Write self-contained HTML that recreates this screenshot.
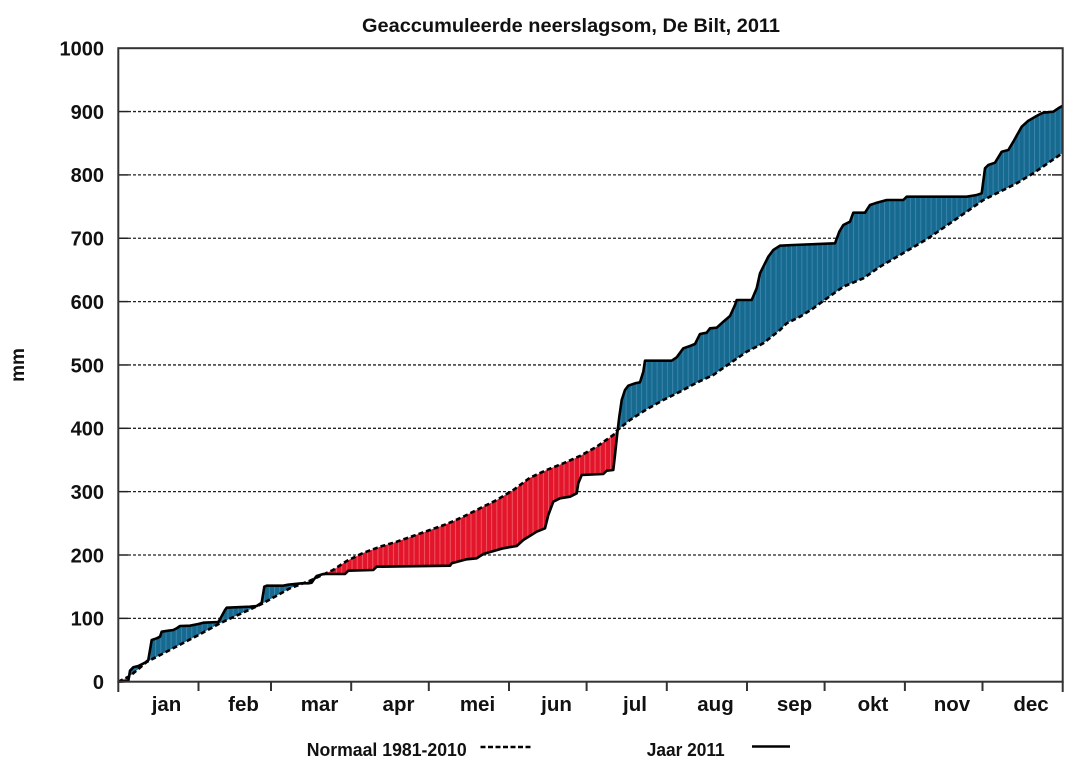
<!DOCTYPE html>
<html>
<head>
<meta charset="utf-8">
<style>
html,body{margin:0;padding:0;background:#fff;}
svg{display:block;}
text{font-family:"Liberation Sans",Arial,sans-serif;fill:#111;}
</style>
</head>
<body>
<svg width="1081" height="760" viewBox="0 0 1081 760" xmlns="http://www.w3.org/2000/svg">
<defs>
  <pattern id="pb" patternUnits="userSpaceOnUse" width="5.17" height="10">
    <rect width="5.17" height="10" fill="#16698f"/>
    <rect x="0" width="1" height="10" fill="#4a90b8" opacity="0.7"/>
  </pattern>
  <pattern id="pr" patternUnits="userSpaceOnUse" width="5.17" height="10">
    <rect width="5.17" height="10" fill="#e3152a"/>
    <rect x="0" width="1" height="10" fill="#f2707c" opacity="0.7"/>
  </pattern>
  <clipPath id="aboveN">
    <polygon points="118.3,681.7 130,676 146.7,662 165,652.5 198.5,635 220,623.3 261.7,604 290,588.3 310,580.7 323.3,574.5 333,570 346.7,561 363,553 380,546.7 396.7,541.7 413,536 430,530 446.7,524 463.3,516.7 480,508.3 496.7,500 513.3,490 530,477.7 546.7,470 563.3,463.3 580,456 596.7,446.7 613.3,435 616.7,430.7 630,420 646.7,409.3 663.3,400 680,391.7 696.7,382.7 713.3,375 730,363.3 746.7,351.7 763.3,343.3 780,330 786.7,323.3 796.7,318.3 800,316.7 813.3,308.3 820,303.3 843.3,286.7 863.3,278.3 880,266.7 900,255 926.7,239.3 950,223.3 966.7,211.7 983.3,200 1000,191.7 1016.7,183.3 1033.3,173.3 1050,161.7 1062.7,153 1062.7,40 118.3,40"/>
  </clipPath>
  <clipPath id="above11">
    <polygon points="118.3,681.7 128.3,681 130,670.7 133.3,667.3 138.3,666 145,662.7 148.3,660 151.7,640 156.7,638.3 160,636.7 161.7,631.7 168.3,630.7 173.3,630 176.7,628.3 180,626 190,625.7 198.3,624 203.3,622.7 218.3,622 220,619.3 225,610 226.7,607.7 250,606.7 256.7,606 261.7,602.7 264.3,586.7 266.7,585.7 283.3,585.7 288.3,584.7 301.7,583.3 308.3,583.3 311.7,582.7 314,579.3 316.7,576 323.3,574 345,574 348.3,570.7 373.3,570 376.7,566.7 450,565.7 451.7,563.3 466.7,559.3 476.7,558.3 483.3,554 503.3,548.3 516.7,546 523.3,540 536.7,531.7 545,528.3 548.3,515 553.3,501.7 560,498.3 570,496.7 576.7,493.3 578.3,483.3 581.7,475 603.3,474 606.7,470.7 613.3,470 615,455 617.3,433.3 619.3,416.7 621.7,400 625,390 628.3,385.7 635,383.3 640,382.3 643.3,371.7 645,360.7 671.7,360.7 676.7,357.3 683.3,348.3 690,346 695,344 700,334 706.7,332.7 710,328.3 716.7,327.7 723.3,321.7 730,316 735,305 736.7,300 751.7,300 756.7,288.3 760,273.3 763.3,266.7 768.3,256.7 773.3,250 780,245.7 793.3,245 835,243.3 839.3,231.7 843.3,225 850,221.7 853.3,212.7 865,212.7 870,205 875,203.3 886.7,200 903.3,200 906.7,196.7 966.7,196.7 976.7,195 981.7,193.3 985,168.3 988.3,165 995,162.7 1001.7,151.7 1008.3,150 1013.3,141.7 1021.7,126.7 1028.3,120.7 1038.3,115 1043.3,112.7 1053.3,111.7 1058.3,108.3 1062.7,105.7 1062.7,40 118.3,40"/>
  </clipPath>
</defs>

<!-- Title -->
<text x="571" y="32" text-anchor="middle" font-size="19" font-weight="bold" textLength="418" lengthAdjust="spacingAndGlyphs">Geaccumuleerde neerslagsom, De Bilt, 2011</text>

<!-- gridlines -->
<g stroke="#222" stroke-width="1.3" stroke-dasharray="3 2" fill="none">
  <line x1="128" y1="618.35" x2="1052" y2="618.35"/>
  <line x1="128" y1="555" x2="1052" y2="555"/>
  <line x1="128" y1="491.65" x2="1052" y2="491.65"/>
  <line x1="128" y1="428.3" x2="1052" y2="428.3"/>
  <line x1="128" y1="364.95" x2="1052" y2="364.95"/>
  <line x1="128" y1="301.6" x2="1052" y2="301.6"/>
  <line x1="128" y1="238.25" x2="1052" y2="238.25"/>
  <line x1="128" y1="174.9" x2="1052" y2="174.9"/>
  <line x1="128" y1="111.55" x2="1052" y2="111.55"/>
</g>
<g stroke="#222" stroke-width="1.5">
  <line x1="118" y1="618.35" x2="128" y2="618.35"/><line x1="1052" y1="618.35" x2="1063" y2="618.35"/>
  <line x1="118" y1="555" x2="128" y2="555"/><line x1="1052" y1="555" x2="1063" y2="555"/>
  <line x1="118" y1="491.65" x2="128" y2="491.65"/><line x1="1052" y1="491.65" x2="1063" y2="491.65"/>
  <line x1="118" y1="428.3" x2="128" y2="428.3"/><line x1="1052" y1="428.3" x2="1063" y2="428.3"/>
  <line x1="118" y1="364.95" x2="128" y2="364.95"/><line x1="1052" y1="364.95" x2="1063" y2="364.95"/>
  <line x1="118" y1="301.6" x2="128" y2="301.6"/><line x1="1052" y1="301.6" x2="1063" y2="301.6"/>
  <line x1="118" y1="238.25" x2="128" y2="238.25"/><line x1="1052" y1="238.25" x2="1063" y2="238.25"/>
  <line x1="118" y1="174.9" x2="128" y2="174.9"/><line x1="1052" y1="174.9" x2="1063" y2="174.9"/>
  <line x1="118" y1="111.55" x2="128" y2="111.55"/><line x1="1052" y1="111.55" x2="1063" y2="111.55"/>
</g>

<!-- blue fill: under 2011, above normal -->
<polygon clip-path="url(#aboveN)" fill="url(#pb)" points="118.3,681.7 128.3,681 130,670.7 133.3,667.3 138.3,666 145,662.7 148.3,660 151.7,640 156.7,638.3 160,636.7 161.7,631.7 168.3,630.7 173.3,630 176.7,628.3 180,626 190,625.7 198.3,624 203.3,622.7 218.3,622 220,619.3 225,610 226.7,607.7 250,606.7 256.7,606 261.7,602.7 264.3,586.7 266.7,585.7 283.3,585.7 288.3,584.7 301.7,583.3 308.3,583.3 311.7,582.7 314,579.3 316.7,576 323.3,574 345,574 348.3,570.7 373.3,570 376.7,566.7 450,565.7 451.7,563.3 466.7,559.3 476.7,558.3 483.3,554 503.3,548.3 516.7,546 523.3,540 536.7,531.7 545,528.3 548.3,515 553.3,501.7 560,498.3 570,496.7 576.7,493.3 578.3,483.3 581.7,475 603.3,474 606.7,470.7 613.3,470 615,455 617.3,433.3 619.3,416.7 621.7,400 625,390 628.3,385.7 635,383.3 640,382.3 643.3,371.7 645,360.7 671.7,360.7 676.7,357.3 683.3,348.3 690,346 695,344 700,334 706.7,332.7 710,328.3 716.7,327.7 723.3,321.7 730,316 735,305 736.7,300 751.7,300 756.7,288.3 760,273.3 763.3,266.7 768.3,256.7 773.3,250 780,245.7 793.3,245 835,243.3 839.3,231.7 843.3,225 850,221.7 853.3,212.7 865,212.7 870,205 875,203.3 886.7,200 903.3,200 906.7,196.7 966.7,196.7 976.7,195 981.7,193.3 985,168.3 988.3,165 995,162.7 1001.7,151.7 1008.3,150 1013.3,141.7 1021.7,126.7 1028.3,120.7 1038.3,115 1043.3,112.7 1053.3,111.7 1058.3,108.3 1062.7,105.7 1062.7,682 118.3,682"/>

<!-- red fill: under normal, above 2011 -->
<polygon clip-path="url(#above11)" fill="url(#pr)" points="118.3,681.7 130,676 146.7,662 165,652.5 198.5,635 220,623.3 261.7,604 290,588.3 310,580.7 323.3,574.5 333,570 346.7,561 363,553 380,546.7 396.7,541.7 413,536 430,530 446.7,524 463.3,516.7 480,508.3 496.7,500 513.3,490 530,477.7 546.7,470 563.3,463.3 580,456 596.7,446.7 613.3,435 616.7,430.7 630,420 646.7,409.3 663.3,400 680,391.7 696.7,382.7 713.3,375 730,363.3 746.7,351.7 763.3,343.3 780,330 786.7,323.3 796.7,318.3 800,316.7 813.3,308.3 820,303.3 843.3,286.7 863.3,278.3 880,266.7 900,255 926.7,239.3 950,223.3 966.7,211.7 983.3,200 1000,191.7 1016.7,183.3 1033.3,173.3 1050,161.7 1062.7,153 1062.7,682 118.3,682"/>

<!-- normal dashed line -->
<polyline fill="none" stroke="#000" stroke-width="2.6" stroke-dasharray="5 3" points="118.3,681.7 130,676 146.7,662 165,652.5 198.5,635 220,623.3 261.7,604 290,588.3 310,580.7 323.3,574.5 333,570 346.7,561 363,553 380,546.7 396.7,541.7 413,536 430,530 446.7,524 463.3,516.7 480,508.3 496.7,500 513.3,490 530,477.7 546.7,470 563.3,463.3 580,456 596.7,446.7 613.3,435 616.7,430.7 630,420 646.7,409.3 663.3,400 680,391.7 696.7,382.7 713.3,375 730,363.3 746.7,351.7 763.3,343.3 780,330 786.7,323.3 796.7,318.3 800,316.7 813.3,308.3 820,303.3 843.3,286.7 863.3,278.3 880,266.7 900,255 926.7,239.3 950,223.3 966.7,211.7 983.3,200 1000,191.7 1016.7,183.3 1033.3,173.3 1050,161.7 1062.7,153"/>

<!-- 2011 solid line -->
<polyline fill="none" stroke="#000" stroke-width="2.6" stroke-linejoin="round" points="118.3,681.7 128.3,681 130,670.7 133.3,667.3 138.3,666 145,662.7 148.3,660 151.7,640 156.7,638.3 160,636.7 161.7,631.7 168.3,630.7 173.3,630 176.7,628.3 180,626 190,625.7 198.3,624 203.3,622.7 218.3,622 220,619.3 225,610 226.7,607.7 250,606.7 256.7,606 261.7,602.7 264.3,586.7 266.7,585.7 283.3,585.7 288.3,584.7 301.7,583.3 308.3,583.3 311.7,582.7 314,579.3 316.7,576 323.3,574 345,574 348.3,570.7 373.3,570 376.7,566.7 450,565.7 451.7,563.3 466.7,559.3 476.7,558.3 483.3,554 503.3,548.3 516.7,546 523.3,540 536.7,531.7 545,528.3 548.3,515 553.3,501.7 560,498.3 570,496.7 576.7,493.3 578.3,483.3 581.7,475 603.3,474 606.7,470.7 613.3,470 615,455 617.3,433.3 619.3,416.7 621.7,400 625,390 628.3,385.7 635,383.3 640,382.3 643.3,371.7 645,360.7 671.7,360.7 676.7,357.3 683.3,348.3 690,346 695,344 700,334 706.7,332.7 710,328.3 716.7,327.7 723.3,321.7 730,316 735,305 736.7,300 751.7,300 756.7,288.3 760,273.3 763.3,266.7 768.3,256.7 773.3,250 780,245.7 793.3,245 835,243.3 839.3,231.7 843.3,225 850,221.7 853.3,212.7 865,212.7 870,205 875,203.3 886.7,200 903.3,200 906.7,196.7 966.7,196.7 976.7,195 981.7,193.3 985,168.3 988.3,165 995,162.7 1001.7,151.7 1008.3,150 1013.3,141.7 1021.7,126.7 1028.3,120.7 1038.3,115 1043.3,112.7 1053.3,111.7 1058.3,108.3 1062.7,105.7"/>

<!-- frame -->
<rect x="118.3" y="48.2" width="944.4" height="633.5" fill="none" stroke="#333" stroke-width="2"/>

<!-- x ticks -->
<g stroke="#333" stroke-width="2">
  <line x1="118.3" y1="681.7" x2="118.3" y2="692"/>
  <line x1="198.5" y1="681.7" x2="198.5" y2="691"/>
  <line x1="271" y1="681.7" x2="271" y2="691"/>
  <line x1="351.2" y1="681.7" x2="351.2" y2="691"/>
  <line x1="428.8" y1="681.7" x2="428.8" y2="691"/>
  <line x1="509" y1="681.7" x2="509" y2="691"/>
  <line x1="586.6" y1="681.7" x2="586.6" y2="691"/>
  <line x1="666.8" y1="681.7" x2="666.8" y2="691"/>
  <line x1="747" y1="681.7" x2="747" y2="691"/>
  <line x1="824.6" y1="681.7" x2="824.6" y2="691"/>
  <line x1="904.9" y1="681.7" x2="904.9" y2="691"/>
  <line x1="982.5" y1="681.7" x2="982.5" y2="691"/>
  <line x1="1062.7" y1="681.7" x2="1062.7" y2="692"/>
</g>

<!-- month labels -->
<g font-size="20.5" font-weight="bold" text-anchor="middle">
  <text x="166.5" y="711">jan</text>
  <text x="243.5" y="711">feb</text>
  <text x="319.5" y="711">mar</text>
  <text x="398.5" y="711">apr</text>
  <text x="477.5" y="711">mei</text>
  <text x="556.5" y="711">jun</text>
  <text x="635" y="711">jul</text>
  <text x="715.5" y="711">aug</text>
  <text x="794.5" y="711">sep</text>
  <text x="873" y="711">okt</text>
  <text x="952" y="711">nov</text>
  <text x="1031" y="711">dec</text>
</g>

<!-- y labels -->
<g font-size="20" font-weight="bold" text-anchor="end">
  <text x="104" y="689">0</text>
  <text x="104" y="625.6">100</text>
  <text x="104" y="562.3">200</text>
  <text x="104" y="499">300</text>
  <text x="104" y="435.6">400</text>
  <text x="104" y="372.3">500</text>
  <text x="104" y="308.9">600</text>
  <text x="104" y="245.5">700</text>
  <text x="104" y="182.2">800</text>
  <text x="104" y="118.8">900</text>
  <text x="104" y="55.5">1000</text>
</g>

<!-- y axis title -->
<text transform="translate(24,365) rotate(-90)" font-size="19" font-weight="bold" text-anchor="middle">mm</text>

<!-- legend -->
<text x="306.7" y="756" font-size="18" font-weight="bold" textLength="160" lengthAdjust="spacingAndGlyphs">Normaal 1981-2010</text>
<line x1="480.5" y1="747" x2="532" y2="747" stroke="#000" stroke-width="2.5" stroke-dasharray="5 2.5"/>
<text x="646.7" y="756" font-size="18" font-weight="bold" textLength="78" lengthAdjust="spacingAndGlyphs">Jaar 2011</text>
<line x1="752" y1="746.5" x2="790" y2="746.5" stroke="#000" stroke-width="2.5"/>
</svg>
</body>
</html>
